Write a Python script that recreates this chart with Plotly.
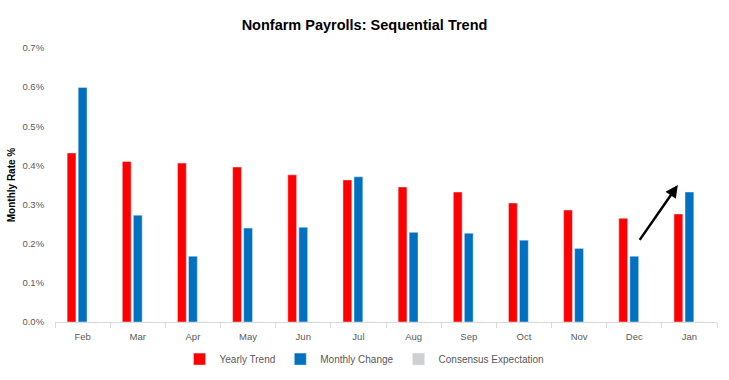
import plotly.graph_objects as go

months = ["Feb", "Mar", "Apr", "May", "Jun", "Jul", "Aug", "Sep", "Oct", "Nov", "Dec", "Jan"]
yearly_trend = [0.432, 0.410, 0.406, 0.396, 0.376, 0.363, 0.345, 0.332, 0.304, 0.286, 0.265, 0.276]
monthly_change = [0.599, 0.273, 0.168, 0.240, 0.242, 0.371, 0.229, 0.227, 0.209, 0.188, 0.168, 0.332]
consensus = [0] * 12
y_ticks = [0, 0.1, 0.2, 0.3, 0.4, 0.5, 0.6, 0.7]
y_tick_labels = ["0.0%", "0.1%", "0.2%", "0.3%", "0.4%", "0.5%", "0.6%", "0.7%"]

FONT = "Liberation Sans"

fig = go.Figure()
fig.add_trace(go.Bar(x=months, y=yearly_trend, name="Yearly Trend", marker_color="#FF0000"))
fig.add_trace(go.Bar(x=months, y=monthly_change, name="Monthly Change", marker_color="#0070C0"))
fig.add_trace(go.Bar(x=months, y=consensus, name="Consensus Expectation", marker_color="#D0D0D0"))

fig.add_annotation(
    x=10.79, y=0.35, ax=10.08, ay=0.206,
    xref="x", yref="y", axref="x", ayref="y",
    showarrow=True, arrowhead=2, arrowsize=1, arrowwidth=2.5, arrowcolor="#000000", text="",
)

fig.update_layout(
    width=729, height=380,
    margin=dict(l=55, r=12, t=48, b=58),
    paper_bgcolor="white", plot_bgcolor="white",
    title=dict(text="<b>Nonfarm Payrolls: Sequential Trend</b>", x=0.5, xanchor="center",
               y=0.935, yanchor="middle", font=dict(family=FONT, size=14.5, color="#000000")),
    barmode="group", bargap=0.4, bargroupgap=0.2,
    font=dict(family=FONT, size=10, color="#595959"),
    showlegend=True,
    legend=dict(orientation="h", x=0.5, xanchor="center", xref="container",
                y=0.055, yanchor="middle", yref="container",
                font=dict(family=FONT, size=10, color="#595959"), itemwidth=30),
    xaxis=dict(type="category", showgrid=False, showline=True, linecolor="#D9D9D9", linewidth=1,
               ticks="outside", tickson="boundaries", ticklen=5, tickcolor="#D9D9D9",
               ticklabelstandoff=6,
               tickfont=dict(size=9.5, color="#595959"), automargin=False),
    yaxis=dict(range=[0, 0.7], tickvals=y_ticks, ticktext=y_tick_labels,
               ticks="outside", ticklen=8, tickcolor="rgba(0,0,0,0)",
               showgrid=False, zeroline=False, showline=False, automargin=False,
               title=dict(text="<b>Monthly Rate %</b>", font=dict(size=10, color="#000000"), standoff=4),
               tickfont=dict(size=9.5, color="#595959")),
)

fig.write_html("out.html", config={"displayModeBar": False},
               post_script="document.body.style.margin='0';")
